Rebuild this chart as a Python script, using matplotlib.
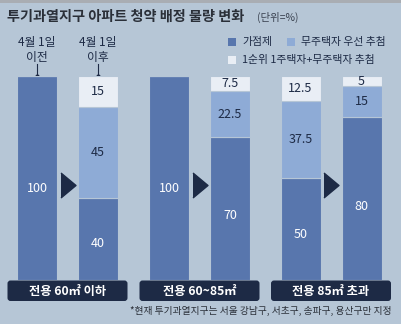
import matplotlib
matplotlib.use("Agg")
import matplotlib.pyplot as plt
from matplotlib.patches import FancyBboxPatch, Rectangle

plt.rcParams['font.family'] = ['Noto Sans CJK KR', 'DejaVu Sans']

# data
groups = ['전용 60㎡ 이하', '전용 60~85㎡', '전용 85㎡ 초과']
periods = ['4월 1일\n이전', '4월 1일\n이후']
series = ['가점제', '무주택자 우선 추첨', '1순위 1주택자+무주택자 추첨']
gajeom = [100, 40, 100, 70, 50, 80]
mujutaek = [0, 45, 0, 22.5, 37.5, 15]
ilsunwi = [0, 15, 0, 7.5, 12.5, 5]
labels_g = ['100', '40', '100', '70', '50', '80']
labels_m = ['', '45', '', '22.5', '37.5', '15']
labels_i = ['', '15', '', '7.5', '12.5', '5']

BG = '#b6c6d6'
DARK = '#5876ad'
MID = '#8eabd6'
LIGHT = '#e9eef5'
NAVY = '#1d2a45'

fig = plt.figure(figsize=(4.01, 3.24), dpi=100)
fig.patch.set_facecolor(BG)

bg = fig.add_axes([0, 0, 1, 1])
bg.set_xlim(0, 401)
bg.set_ylim(324, 0)
bg.axis('off')
bg.patch.set_alpha(0)

ax = fig.add_axes([0, (324 - 280) / 324, 1, 204 / 324])
ax.set_xlim(0, 401)
ax.set_ylim(0, 100)
ax.axis('off')
ax.patch.set_alpha(0)

# bar positions
centers = [67.5, 199.5, 331]
xs = []
for c in centers:
    xs += [c - 30.5, c + 30.5]

ax.bar(xs, gajeom, width=40, color=DARK, edgecolor=BG, linewidth=0.8)
ax.bar(xs, mujutaek, width=40, bottom=gajeom, color=MID, edgecolor=BG, linewidth=0.8)
b2 = [g + m for g, m in zip(gajeom, mujutaek)]
ax.bar(xs, ilsunwi, width=40, bottom=b2, color=LIGHT, edgecolor=BG, linewidth=0.8)

for x, g, m, i, lg, lm, li in zip(xs, gajeom, mujutaek, ilsunwi, labels_g, labels_m, labels_i):
    ax.text(x, g * 0.45, lg, ha='center', va='center', color='white', fontsize=9)
    if lm:
        ax.text(x, g + m / 2, lm, ha='center', va='center', color=NAVY, fontsize=9)
    if li:
        ax.text(x, g + m + i / 2, li, ha='center', va='center', color=NAVY, fontsize=9)

# arrows
ax.plot(centers, [46.5] * 3, linestyle='none', color=NAVY,
        marker=[(-0.6, -1), (0.6, 0), (-0.6, 1)], markersize=18)

# top gray line
bg.add_patch(Rectangle((0, 0), 401, 2.5, color='#a9adb3', lw=0))

# title
bg.text(7, 17, '투기과열지구 아파트 청약 배정 물량 변화', fontsize=10.2, fontweight='bold',
        color='#2a2f38', va='center')
bg.text(257, 17.5, '(단위=%)', fontsize=7.5, color='#3a4250', va='center')

# period labels
for x, p in zip(xs[:2], periods):
    bg.text(x, 50, p, ha='center', va='center', fontsize=8.5, color=NAVY, linespacing=1.2)
    bg.plot([x, x], [64, 76], color=NAVY, lw=0.8)
    bg.plot(x, 76, 'o', color=NAVY, ms=2)

# legend
leg = [(228, 42, DARK, series[0]), (287, 42, MID, series[1]), (228, 60, LIGHT, series[2])]
for lx, ly, col, name in leg:
    bg.add_patch(Rectangle((lx, ly - 4), 8, 8, color=col, lw=0))
    bg.text(lx + 14, ly, name, fontsize=7.8, color=NAVY, va='center')

# group label boxes
for c, name in zip(centers, groups):
    bg.add_patch(FancyBboxPatch((c - 60, 280.5), 120, 20.5,
                                boxstyle='round,pad=0,rounding_size=3',
                                color=NAVY, lw=0))
    bg.text(c, 291, name, ha='center', va='center', fontsize=8.8,
            fontweight='bold', color='white')

# footnote
bg.text(392, 311, '*현재 투기과열지구는 서울 강남구, 서초구, 송파구, 용산구만 지정',
        ha='right', va='center', fontsize=7, color='#2a2f38')

fig.savefig('out.png', dpi=100, facecolor=BG)
